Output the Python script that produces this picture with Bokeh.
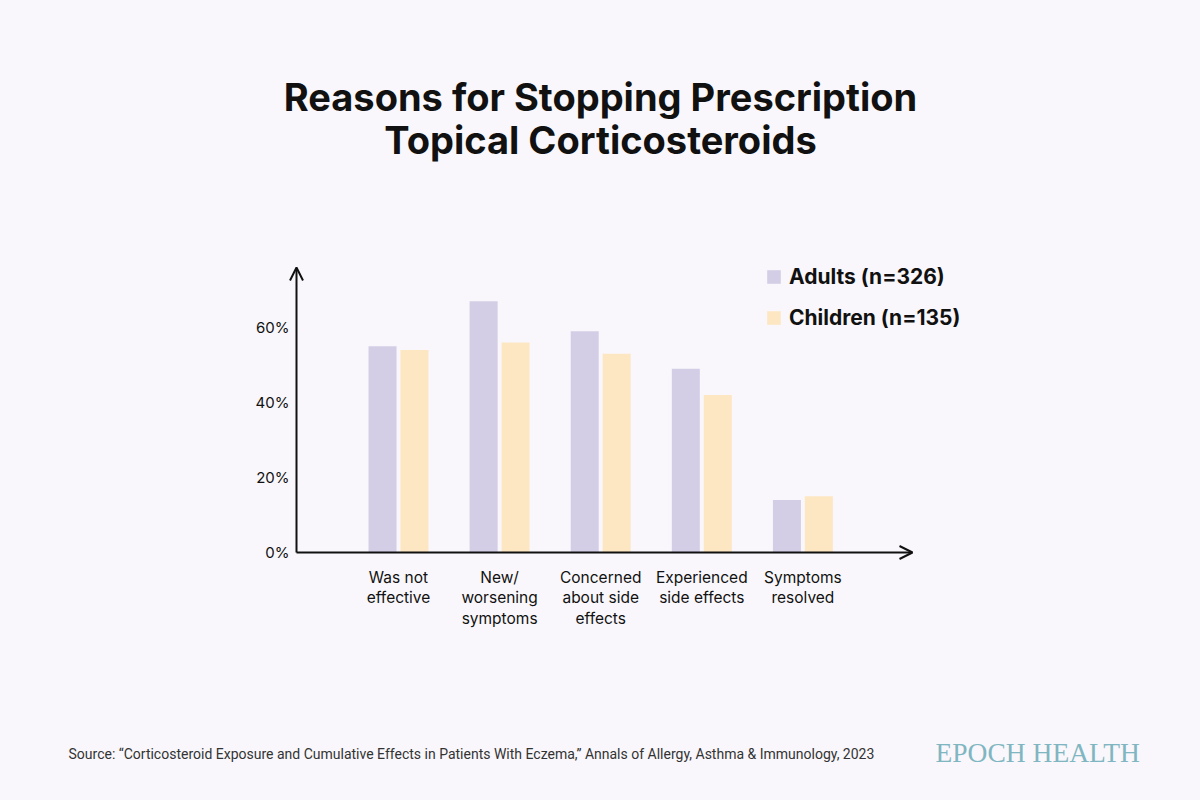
from bokeh.plotting import figure
from bokeh.layouts import column
from bokeh.models import (Range1d, Label, Arrow, OpenHead, Legend, LegendItem,
                          FixedTicker, ColumnDataSource)
from bokeh.embed import file_html
from bokeh.resources import INLINE

# ---- data -------------------------------------------------------------
reasons = ["Was not\neffective",
           "New/\nworsening\nsymptoms",
           "Concerned\nabout side\neffects",
           "Experienced\nside effects",
           "Symptoms\nresolved"]
adults = [55, 67, 59, 49, 14]
children = [54, 56, 53, 42, 15]
y_ticks = [0, 20, 40, 60]
series_names = ["Adults (n=326)", "Children (n=135)"]

# ---- styling ----------------------------------------------------------
BG = "#f9f7fb"
ADULT_COLOR = "#d3cee6"
CHILD_COLOR = "#fde7c3"
INK = "#111111"
FONT = "Inter"

W = 1200
MAIN_H, FOOT_H = 730, 70
FRAME_L, FRAME_R, FRAME_T, FRAME_B = 50, 1200, 0, 566
ZERO_PX = 552                # pixel row of the 0% baseline

PX_PER_UNIT = 101.1          # horizontal pixels per category step
PX_PER_PCT = 3.75            # vertical pixels per percentage point
AXIS_X = 1 - 102 / PX_PER_UNIT
X_END = 1 + 514 / PX_PER_UNIT
Y_TOP = 76

positions = [i + 1 for i in range(len(reasons))]
offset = 0.158
bar_w = 0.277

src = ColumnDataSource(dict(
    x_adult=[p - offset for p in positions],
    x_child=[p + offset for p in positions],
    adults=adults,
    children=children,
))

x_start = 1 - (398 - FRAME_L) / PX_PER_UNIT
x_end = x_start + (FRAME_R - FRAME_L) / PX_PER_UNIT
y_start = -(FRAME_B - ZERO_PX) / PX_PER_PCT
y_end = (ZERO_PX - FRAME_T) / PX_PER_PCT

p = figure(width=W, height=MAIN_H, output_backend="svg", toolbar_location=None,
           x_range=Range1d(x_start, x_end), y_range=Range1d(y_start, y_end),
           min_border_left=FRAME_L, min_border_right=W - FRAME_R,
           min_border_top=FRAME_T, min_border_bottom=MAIN_H - FRAME_B,
           background_fill_color=BG, border_fill_color=BG,
           outline_line_color=None, styles={"background-color": BG})
p.grid.visible = False

# canvas-pixel helper ranges for free-standing text
p.extra_x_ranges = {"cx": Range1d(FRAME_L, FRAME_R)}
p.extra_y_ranges = {"cy": Range1d(FRAME_B, FRAME_T)}

r_adult = p.vbar(x="x_adult", top="adults", width=bar_w, source=src,
                 fill_color=ADULT_COLOR, line_color=None)
r_child = p.vbar(x="x_child", top="children", width=bar_w, source=src,
                 fill_color=CHILD_COLOR, line_color=None)

# category axis
xa = p.xaxis[0]
xa.ticker = FixedTicker(ticks=positions)
xa.major_label_overrides = {pos: lab for pos, lab in zip(positions, reasons)}
xa.axis_line_color = None
xa.major_tick_line_color = None
xa.minor_tick_line_color = None
xa.major_label_text_font = FONT
xa.major_label_text_font_size = "15.5px"
xa.major_label_text_color = INK
xa.major_label_text_line_height = 1.1
xa.major_label_standoff = -5

# percentage axis, pinned to the arrow's position
ya = p.yaxis[0]
ya.fixed_location = AXIS_X
ya.ticker = FixedTicker(ticks=y_ticks)
ya.major_label_overrides = {t: f"{t}%" for t in y_ticks}
ya.axis_line_color = None
ya.major_tick_line_color = None
ya.minor_tick_line_color = None
ya.major_label_text_font = FONT
ya.major_label_text_font_size = "15px"
ya.major_label_text_color = INK
ya.major_label_standoff = 1

# axis lines with open arrowheads
p.add_layout(Arrow(end=OpenHead(size=13, line_width=2, line_color=INK),
                   x_start=AXIS_X, y_start=0, x_end=AXIS_X, y_end=Y_TOP,
                   line_width=2, line_color=INK))
p.add_layout(Arrow(end=OpenHead(size=13, line_width=2, line_color=INK),
                   x_start=AXIS_X, y_start=0, x_end=X_END, y_end=0,
                   line_width=2, line_color=INK))

# legend
legend = Legend(items=[LegendItem(label=series_names[0], renderers=[r_adult]),
                       LegendItem(label=series_names[1], renderers=[r_child])],
                location=(765 - FRAME_L, FRAME_B - 329.5),
                orientation="vertical",
                glyph_width=17, glyph_height=17, label_height=17,
                label_standoff=7, spacing=16, padding=0, margin=0,
                label_text_font=FONT, label_text_font_size="21px",
                label_text_font_style="bold", label_text_color=INK,
                border_line_color=None, background_fill_alpha=0)
p.add_layout(legend, "center")

# title
for yb, line in [(96, "Reasons for Stopping Prescription"),
                 (139, "Topical Corticosteroids")]:
    p.add_layout(Label(x=600, y=yb, text=line, x_range_name="cx",
                       y_range_name="cy", text_font=FONT,
                       text_font_size="38px", text_font_style="bold",
                       text_color=INK, text_align="center",
                       text_baseline="alphabetic"))

# footer strip with source note and brand
f = figure(width=W, height=FOOT_H, output_backend="svg", toolbar_location=None,
           x_range=Range1d(FRAME_L, W), y_range=Range1d(FOOT_H, 0),
           x_axis_location=None, y_axis_location=None,
           min_border_left=FRAME_L, min_border_right=0, min_border_top=0,
           min_border_bottom=0, background_fill_color=BG,
           border_fill_color=BG, outline_line_color=None,
           styles={"background-color": BG})
f.grid.visible = False
f.add_layout(Label(x=68, y=23,
                   text="Source: \u201cCorticosteroid Exposure and Cumulative "
                        "Effects in Patients With Eczema,\u201d Annals of "
                        "Allergy, Asthma & Immunology, 2023",
                   text_font="Roboto", text_font_size="14px",
                   text_color="#333333", text_align="left",
                   text_baseline="alphabetic"))
f.add_layout(Label(x=935, y=22, text="EPOCH HEALTH",
                   text_font="Liberation Serif", text_font_size="27.5px",
                   text_color="#80b6c1", text_align="left",
                   text_baseline="alphabetic"))

layout = column(p, f, spacing=0, styles={"background-color": BG})
open("out.html", "w").write(file_html(layout, INLINE))
